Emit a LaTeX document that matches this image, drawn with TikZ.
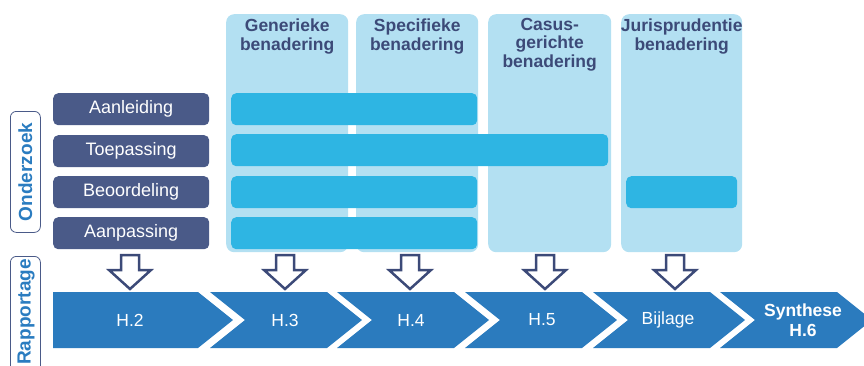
\documentclass[tikz,border=0pt]{standalone}
\usepackage{fontspec}
\setmainfont{Liberation Sans}
\usepackage{xcolor}

\definecolor{slate}{RGB}{74,90,136}
\definecolor{paleblue}{RGB}{179,224,242}
\definecolor{barblue}{RGB}{46,181,227}
\definecolor{chevblue}{RGB}{43,123,190}
\definecolor{navy}{RGB}{60,74,120}
\definecolor{sideblue}{RGB}{42,124,192}

\tikzset{
	stepbox/.style={fill=slate, text=white, rounded corners=5, inner sep=0, minimum width=156, minimum height=32, anchor=north west, font=\fontsize{18}{20}\selectfont},
	column/.style={fill=paleblue, rounded corners=8, inner sep=0, minimum width=122, minimum height=238, anchor=north west},
	colhead/.style={text=navy, align=center, anchor=north, inner sep=5, font=\bfseries\fontsize{17.5}{19}\selectfont},
	bar/.style={fill=barblue, rounded corners=5, inner sep=0, minimum height=32, anchor=north west},
	sidebox/.style={draw=slate, line width=0.8, rounded corners=6, inner sep=0, minimum width=30},
	sidetext/.style={text=sideblue, rotate=90, font=\bfseries\fontsize{19}{20}\selectfont},
	chevron/.style={fill=chevblue},
	hollow/.style={draw=navy, line width=2.5, fill=white, line join=miter},
	chevtext/.style={text=white, align=center, font=\fontsize{17.5}{19}\selectfont}
}

\begin{document}
\begin{tikzpicture}[x=1pt,y=-1pt]
	\useasboundingbox (0,0) rectangle (864,365);

	% benaderingen
	\node [column] (gen) at (226,14) {};
	\node [colhead] at (gen.north) {Generieke\\benadering};
	\node [column] (spec) at (356,14) {};
	\node [colhead] at (spec.north) {Specifieke\\benadering};
	\node [column, minimum width=123] (casus) at (488,14) {};
	\node [colhead, inner sep=4, font=\bfseries\fontsize{17.5}{18.5}\selectfont] at (casus.north) {Casus-\\gerichte\\benadering};
	\node [column, minimum width=121] (juris) at (621,14) {};
	\node [colhead] at (juris.north) {Jurisprudentie\\benadering};

	% onderzoek
	\node [stepbox] (aanl) at (53,93) {Aanleiding};
	\node [stepbox] (toep) at (53,135) {Toepassing};
	\node [stepbox] (beoo) at (53,176) {Beoordeling};
	\node [stepbox] (aanp) at (53,217) {Aanpassing};

	\node [bar, minimum width=246] (barA) at (231,93) {};
	\node [bar, minimum width=377] (barT) at (231,134) {};
	\node [bar, minimum width=246] (barB) at (231,176) {};
	\node [bar, minimum width=111] (barJ) at (626,176) {};
	\node [bar, minimum width=246] (barP) at (231,217) {};

	\node [sidebox, minimum height=121, anchor=north west] (ond) at (10,111) {};
	\node [sidetext] at (ond.center) {Onderzoek};
	\node [sidebox, minimum height=130, anchor=north west] (rap) at (10,256) {};
	\node [sidetext] at (26,312) {Rapportage};

	% rapportage
	\fill [chevron] (53,292) -- (198,292) -- (233,320) -- (198,348) -- (53,348) -- cycle;
	\foreach \x in {210,337,465,593,720}
		\fill [chevron] (\x,292) -- (\x+117,292) -- (\x+152,320) -- (\x+117,348) -- (\x,348) -- (\x+35,320) -- cycle;
	\node [chevtext] (h2) at (130,320) {H.2};
	\node [chevtext] (h3) at (285,320) {H.3};
	\node [chevtext] (h4) at (411,320) {H.4};
	\node [chevtext] (h5) at (542,320) {H.5};
	\node [chevtext] (bijl) at (668,320) {Bijlage};
	\node [chevtext, font=\bfseries\fontsize{17.5}{20}\selectfont] (syn) at (803,320) {Synthese\\H.6};

	\foreach \x in {130,285,410,545,675}
		\draw [hollow] (\x-9,255) -- (\x+9,255) -- (\x+9,270) -- (\x+21,270) -- (\x,289) -- (\x-21,270) -- (\x-9,270) -- cycle;
\end{tikzpicture}
\end{document}
